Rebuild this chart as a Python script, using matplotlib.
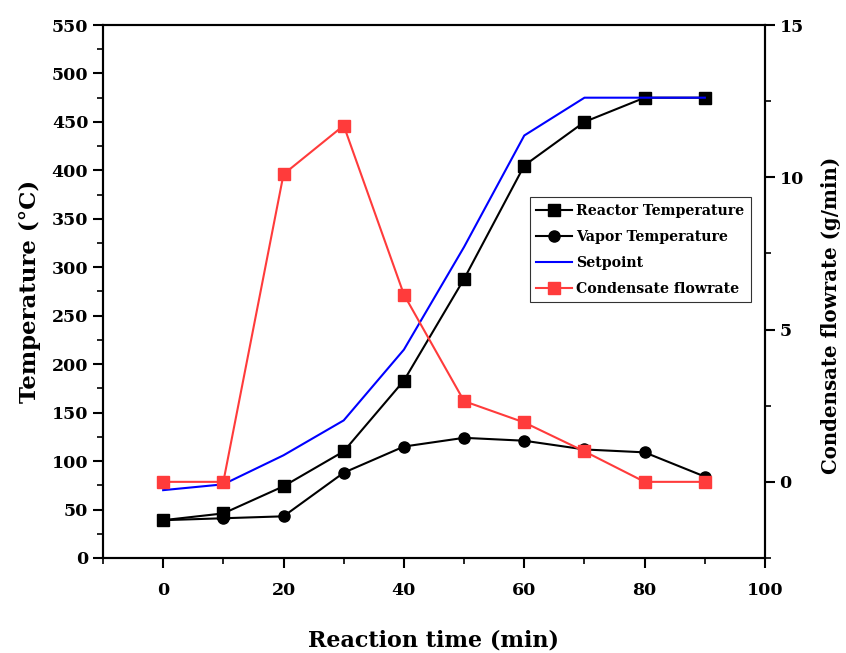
import matplotlib

matplotlib.use("Agg")
import matplotlib.pyplot as plt
from matplotlib.ticker import MultipleLocator

# データ
time_min = [0, 10, 20, 30, 40, 50, 60, 70, 80, 90]
reactor_temp = [39, 46, 74, 110, 183, 288, 405, 450, 475, 475]
vapor_temp = [39, 41, 43, 88, 115, 124, 121, 112, 109, 84]
setpoint = [70, 76, 106, 142, 215, 321, 436, 475, 475, 475]
condensate = [0, 0, 10.1, 11.7, 6.15, 2.65, 1.95, 1.0, 0, 0]

plt.rcParams["font.family"] = ["DejaVu Serif"]
plt.rcParams["font.weight"] = "bold"

fig = plt.figure(figsize=(8.46, 6.53), dpi=100)
ax = fig.add_axes([0.1217, 0.1455, 0.7826, 0.8162])
ax2 = ax.twinx()

l1, = ax.plot(time_min, reactor_temp, color="black", marker="s", markersize=8,
              linewidth=1.5, label="Reactor Temperature")
l2, = ax.plot(time_min, vapor_temp, color="black", marker="o", markersize=8,
              linewidth=1.5, label="Vapor Temperature")
l3, = ax.plot(time_min, setpoint, color="#0000ff", linewidth=1.5, label="Setpoint")
l4, = ax2.plot(time_min, condensate, color="#ff3b3b", marker="s", markersize=8,
               linewidth=1.5, label="Condensate flowrate")

# 軸範囲と目盛り
ax.set_xlim(-10, 100)
ax.set_ylim(0, 550)
ax2.set_ylim(-2.5, 15)

ax.set_xticks([0, 20, 40, 60, 80, 100])
ax.xaxis.set_minor_locator(MultipleLocator(10))
ax.yaxis.set_major_locator(MultipleLocator(50))
ax.yaxis.set_minor_locator(MultipleLocator(25))
ax2.set_yticks([0, 5, 10, 15])
ax2.yaxis.set_minor_locator(MultipleLocator(2.5))

for a in (ax, ax2):
    for s in a.spines.values():
        s.set_linewidth(1.5)
    a.tick_params(which="major", direction="out", length=7, width=1.5, labelsize=12.5)
    a.tick_params(which="minor", direction="out", length=4, width=1.2)
ax.tick_params(axis="x", pad=10)

# ラベル
ax.set_xlabel("Reaction time (min)", fontsize=16, fontweight="bold", labelpad=22)
ax.set_ylabel("Temperature (°C)", fontsize=16.5, fontweight="bold", labelpad=8)
ax2.set_ylabel("Condensate flowrate (g/min)", fontsize=14.2, fontweight="bold")
ax2.yaxis.set_label_coords(1.085, 0.455)

# 凡例
leg = ax.legend(handles=[l1, l2, l3, l4], loc="upper left",
                bbox_to_anchor=(0.645, 0.677), frameon=True, fancybox=False,
                edgecolor="black", fontsize=10.2, handlelength=2.5,
                borderpad=0.45, labelspacing=0.85, handletextpad=0.3,
                borderaxespad=0)
leg.get_frame().set_linewidth(0.8)
for t in leg.get_texts():
    t.set_fontweight("bold")

fig.savefig("out.png", dpi=100)
